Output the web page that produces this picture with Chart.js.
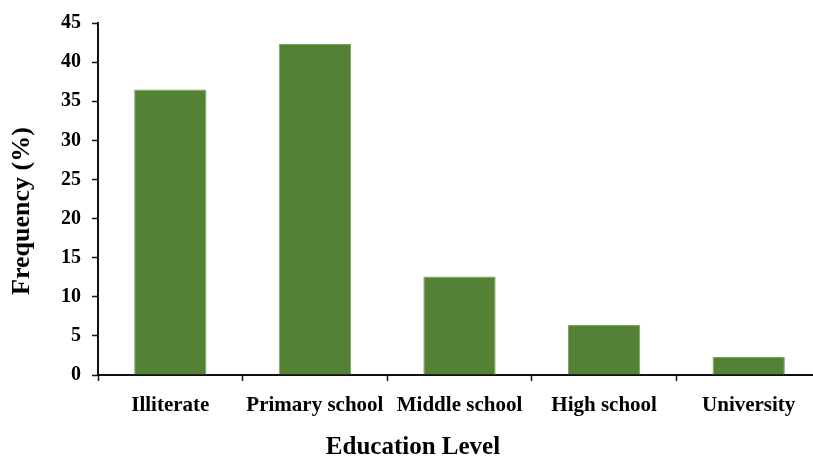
<!DOCTYPE html>
<html>
<head>
<meta charset="utf-8">
<title>Education Level</title>
<script src="https://cdn.jsdelivr.net/npm/chart.js@4/dist/chart.umd.min.js"></script>
<style>
    html, body { margin: 0; padding: 0; background: #fff; overflow: hidden; }
    #chartBox { width: 830px; height: 459px; }
</style>
</head>
<body>
<div id="chartBox"><canvas id="eduChart" width="830" height="459"></canvas></div>
<script>
// Share of respondents by education level
const levels = ['Illiterate', 'Primary school', 'Middle school', 'High school', 'University'];
const frequency = [36.5, 42.3, 12.6, 6.4, 2.3];
const yTicks = [0, 5, 10, 15, 20, 25, 30, 35, 40, 45];

const xTitle = 'Education Level';
const yTitle = 'Frequency (%)';

const serif = "'Liberation Serif', 'Times New Roman', serif";
const axisColor = '#111';

// Axis titles drawn by hand so they can sit off the plot centre
const axisTitles = {
    id: 'axisTitles',
    afterDraw(chart) {
        const ctx = chart.ctx;
        ctx.save();
        ctx.fillStyle = '#000';
        ctx.textAlign = 'center';
        ctx.textBaseline = 'middle';

        ctx.font = 'bold 25px ' + serif;
        ctx.fillText(xTitle, 413, 448);

        ctx.translate(22, 211);
        ctx.rotate(-Math.PI / 2);
        ctx.font = 'bold 26px ' + serif;
        ctx.fillText(yTitle, 0, 0);
        ctx.restore();
    }
};

const ctx = document.getElementById('eduChart').getContext('2d');
new Chart(ctx, {
    type: 'bar',
    data: {
        labels: levels,
        datasets: [{
            data: frequency,
            backgroundColor: '#548235',
            borderColor: '#7fa266',
            borderWidth: 1,
            barPercentage: 0.5,
            categoryPercentage: 1.0
        }]
    },
    options: {
        responsive: false,
        animation: false,
        layout: {
            padding: { top: 22, right: 9, bottom: 0, left: 0 }
        },
        plugins: {
            legend: { display: false },
            tooltip: { enabled: false }
        },
        scales: {
            x: {
                grid: {
                    display: true,
                    drawOnChartArea: false,
                    offset: true,
                    tickLength: 6,
                    tickWidth: 1.5,
                    tickColor: axisColor
                },
                border: { color: axisColor, width: 2 },
                ticks: {
                    color: '#000',
                    padding: 12,
                    maxRotation: 0,
                    autoSkip: false,
                    font: { family: serif, size: 21, weight: 'bold' }
                },
                afterFit(scale) {
                    scale.height = 84;
                }
            },
            y: {
                min: 0,
                max: 45,
                afterBuildTicks(scale) {
                    scale.ticks = yTicks.map(v => ({ value: v }));
                },
                grid: {
                    display: true,
                    drawOnChartArea: false,
                    tickLength: 6,
                    tickWidth: 1.5,
                    tickColor: axisColor
                },
                border: { color: axisColor, width: 2 },
                ticks: {
                    color: '#000',
                    padding: 11,
                    font: { family: serif, size: 20, weight: 'bold' }
                },
                afterFit(scale) {
                    scale.width = 98;
                }
            }
        }
    },
    plugins: [axisTitles]
});
</script>
</body>
</html>
